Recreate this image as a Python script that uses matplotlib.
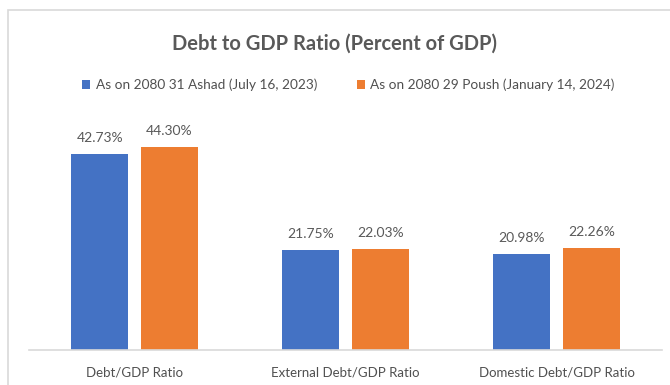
import matplotlib.pyplot as plt
from matplotlib.patches import Rectangle
import numpy as np

plt.rcParams['font.family'] = ['Lato', 'DejaVu Sans']

categories = ['Debt/GDP Ratio', 'External Debt/GDP Ratio', 'Domestic Debt/GDP Ratio']
series_names = ['As on 2080 31 Ashad (July 16, 2023)',
                'As on 2080 29 Poush (January 14, 2024)']
ashad = [42.73, 21.75, 20.98]
poush = [44.30, 22.03, 22.26]

blue = '#4472C4'
orange = '#ED7D31'
grey = '#595959'

W, H = 670, 385
fig = plt.figure(figsize=(W / 100, H / 100), dpi=100)

# outer chart frame (only left/top edges fall inside the image)
fig.patches.append(Rectangle((8 / W, -0.1), 1.2, 1 - 10 / H + 0.1,
                             transform=fig.transFigure, fill=False,
                             edgecolor='#D9D9D9', linewidth=1.2))

ax = fig.add_axes([29 / W, 35 / H, (662 - 29) / W, 250 / H])
x = np.arange(len(categories))
bw = 0.268
off = 0.165
b1 = ax.bar(x - off, ashad, bw, color=blue, label=series_names[0])
b2 = ax.bar(x + off, poush, bw, color=orange, label=series_names[1])

for bars, vals in ((b1, ashad), (b2, poush)):
    for r, v in zip(bars, vals):
        ax.annotate(f'{v:.2f}%', (r.get_x() + r.get_width() / 2, v),
                    xytext=(0, 10), textcoords='offset pixels',
                    ha='center', va='bottom', fontsize=10, color=grey)

ax.set_xlim(-0.5, 2.5)
ax.set_ylim(0, 250 / 4.58)
ax.set_yticks([])
ax.set_xticks(x)
ax.set_xticklabels(categories, fontsize=9.5, color='#505050')
ax.tick_params(axis='x', length=0, pad=12)
for s in ('top', 'right', 'left'):
    ax.spines[s].set_visible(False)
ax.spines['bottom'].set_color('#D9D9D9')
ax.spines['bottom'].set_linewidth(1.2)

fig.text(0.5, 1 - 44 / H, 'Debt to GDP Ratio (Percent of GDP)',
         ha='center', va='center', fontsize=14.5, fontweight='bold', color=grey)

fig.legend(handles=[b1, b2], labels=series_names, loc='center',
           bbox_to_anchor=(0.520, 1 - 85 / H), ncol=2, frameon=False,
           fontsize=9.8, labelcolor='#505050',
           handlelength=0.6, handleheight=0.6,
           handletextpad=0.4, columnspacing=2.9)

fig.savefig('out.png', dpi=100)
